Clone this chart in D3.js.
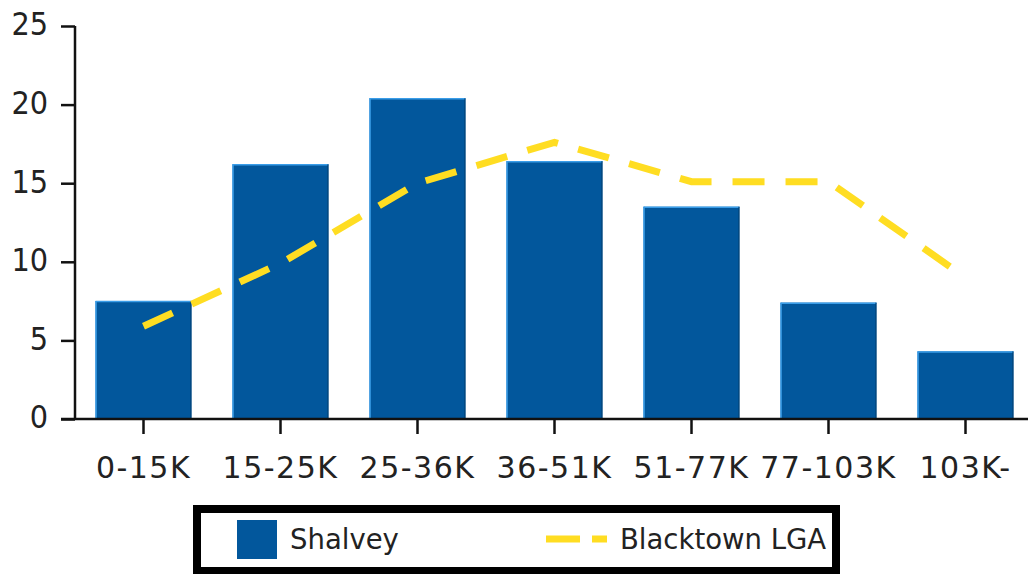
<!DOCTYPE html>
<html><head><meta charset="utf-8">
<script src="https://cdn.jsdelivr.net/npm/d3@7"></script>
<style>body{margin:0;background:#fff}svg{display:block}</style>
</head><body>
<svg id="c" width="1028" height="574"></svg>
<script>
const categories = ["0-15K","15-25K","25-36K","36-51K","51-77K","77-103K","103K-"];
const shalvey = [7.5, 16.2, 20.4, 16.4, 13.5, 7.4, 4.3];
const blacktown = [5.9, 9.9, 15.0, 17.6, 15.1, 15.1, 9.0];
const yTicks = [0,5,10,15,20,25];
const seriesNames = ["Shalvey","Blacktown LGA"];

const svg = d3.select("#c");
const font = "DejaVu Sans, Verdana, sans-serif";
const condFont = "'DejaVu Sans Condensed', 'DejaVu Sans', sans-serif";
const x = d3.scaleBand().domain(categories).range([75, 1034]).paddingInner(0.30).paddingOuter(0.15);
const y = d3.scaleLinear().domain([0,25]).range([419, 26]);

// bars
const bars = svg.append("g");
bars.selectAll("rect.bar").data(shalvey).join("rect")
  .attr("x",(d,i)=>x(categories[i])).attr("y",d=>y(d))
  .attr("width",x.bandwidth()).attr("height",d=>y(0)-y(d))
  .attr("fill","#02579c");
bars.selectAll("line.hl").data(shalvey).join("line")
  .attr("x1",(d,i)=>x(categories[i])+0.5).attr("x2",(d,i)=>x(categories[i])+0.5)
  .attr("y1",d=>y(d)).attr("y2",y(0)).attr("stroke","#3a9de8").attr("stroke-width",1.5);
bars.selectAll("line.ht").data(shalvey).join("line")
  .attr("x1",(d,i)=>x(categories[i])).attr("x2",(d,i)=>x(categories[i])+x.bandwidth())
  .attr("y1",d=>y(d)+0.5).attr("y2",d=>y(d)+0.5).attr("stroke","#3a9de8").attr("stroke-width",1.5);
bars.selectAll("line.hr").data(shalvey).join("line")
  .attr("x1",(d,i)=>x(categories[i])+x.bandwidth()-0.5).attr("x2",(d,i)=>x(categories[i])+x.bandwidth()-0.5)
  .attr("y1",d=>y(d)).attr("y2",y(0)).attr("stroke","#023f70").attr("stroke-width",1);

// axes
const yAxis = d3.axisLeft(y).tickValues(yTicks).tickSize(14).tickPadding(13);
const gy = svg.append("g").attr("transform","translate(75,0)").call(yAxis);
gy.select(".domain").remove();
gy.append("line").attr("x1",0).attr("x2",0).attr("y1",y(25)).attr("y2",y(0)).attr("stroke","#111").attr("stroke-width",2.5);
gy.selectAll(".tick line").attr("stroke","#111").attr("stroke-width",2.5);
gy.selectAll(".tick text").attr("font-family",condFont).attr("font-size",32).attr("fill","#222").attr("dy","0.28em");

const xAxis = d3.axisBottom(x).tickSize(15).tickPadding(23);
const gx = svg.append("g").attr("transform",`translate(0,${y(0)})`).call(xAxis);
gx.select(".domain").remove();
gx.append("line").attr("x1",61).attr("x2",1028).attr("y1",0).attr("y2",0).attr("stroke","#111").attr("stroke-width",2.5);
gx.selectAll(".tick line").attr("stroke","#111").attr("stroke-width",2.5);
gx.selectAll(".tick text").attr("font-family",font).attr("font-size",30).attr("fill","#222").attr("letter-spacing","1.5px");

// line
const line = d3.line().x((d,i)=>x(categories[i])+x.bandwidth()/2).y(d=>y(d));
svg.append("path").datum(blacktown).attr("d",line).attr("fill","none")
  .attr("stroke","#ffdd22").attr("stroke-width",7).attr("stroke-dasharray","32,21");

// legend
const lg = svg.append("g");
lg.append("rect").attr("x",197).attr("y",509).attr("width",639).attr("height",62)
  .attr("fill","#fff").attr("stroke","#000").attr("stroke-width",8);
lg.append("rect").attr("x",237).attr("y",520).attr("width",40).attr("height",39).attr("fill","#02579c");
lg.append("text").attr("x",290).attr("y",549).text(seriesNames[0])
  .attr("font-family",font).attr("font-size",27.5).attr("fill","#222");
lg.append("line").attr("x1",546).attr("x2",607).attr("y1",539).attr("y2",539)
  .attr("stroke","#ffdd22").attr("stroke-width",7).attr("stroke-dasharray","34,12");
lg.append("text").attr("x",620).attr("y",549).text(seriesNames[1])
  .attr("font-family",font).attr("font-size",27.5).attr("fill","#222");
</script>
</body></html>
